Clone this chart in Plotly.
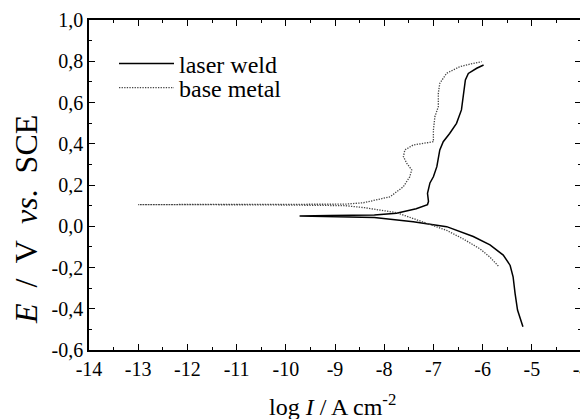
import plotly.graph_objects as go

# Laser weld (solid)
lw_logI = [-5.18, -5.29, -5.34, -5.38, -5.44, -5.58, -5.85, -6.19, -6.73, -7.41, -8.2, -9.1, -9.72,
           -9.1, -8.2, -7.75, -7.35, -7.12, -7.10, -7.12, -7.07, -7.0, -6.93, -6.87, -6.80, -6.67,
           -6.53, -6.43, -6.39, -6.37, -6.35, -6.29, -6.12, -5.98]
lw_E = [-0.487, -0.406, -0.325, -0.245, -0.19, -0.14, -0.09, -0.05, -0.002, 0.022, 0.042, 0.048, 0.05,
        0.052, 0.055, 0.063, 0.085, 0.105, 0.12, 0.16, 0.21, 0.24, 0.289, 0.37, 0.41, 0.45,
        0.499, 0.564, 0.628, 0.67, 0.709, 0.741, 0.766, 0.782]

# Base metal (dotted)
bm_logI = [-5.68, -5.85, -6.05, -6.39, -6.73, -7.07, -7.41, -7.75, -8.4, -8.8, -10.5, -13.0,
           -10.5, -8.8, -8.42, -7.88, -7.61, -7.48, -7.44, -7.54, -7.61, -7.58, -7.41, -7.0,
           -7.0, -6.97, -6.90, -6.90, -6.87, -6.73, -6.46, -6.19, -6.02]
bm_E = [-0.193, -0.15, -0.11, -0.062, -0.02, 0.008, 0.039, 0.066, 0.09, 0.1, 0.104, 0.105,
        0.106, 0.107, 0.114, 0.143, 0.192, 0.24, 0.273, 0.305, 0.337, 0.37, 0.394, 0.41,
        0.467, 0.531, 0.58, 0.645, 0.693, 0.742, 0.774, 0.79, 0.798]

x_ticks = [-14, -13, -12, -11, -10, -9, -8, -7, -6, -5, -4]
x_ticktext = ["-14", "-13", "-12", "-11", "-10", "-9", "-8", "-7", "-6", "-5", "-4"]
y_ticks = [1.0, 0.8, 0.6, 0.4, 0.2, 0.0, -0.2, -0.4, -0.6]
y_ticktext = ["1,0", "0,8", "0,6", "0,4", "0,2", "0,0", "-0,2", "-0,4", "-0,6"]

FONT = "Liberation Serif"

# page has an 8px body margin; plot area in window pixels: x 89..581, y 20..350
OFF = 8
PL, PR, PT, PB = 89 - OFF, 581 - OFF, 20 - OFF, 350 - OFF
W, H = 588 - OFF, 419 - OFF
PW, PH = PR - PL, PB - PT


def px_x(x):  # window px -> paper
    return (x - OFF - PL) / PW


def px_y(y):
    return (PB - (y - OFF)) / PH


fig = go.Figure()
fig.add_trace(go.Scatter(x=lw_logI, y=lw_E, mode="lines", name="laser weld", legend="legend",
                         line=dict(color="black", width=1.5)))
fig.add_trace(go.Scatter(x=bm_logI, y=bm_E, mode="lines", name="base metal", legend="legend2",
                         line=dict(color="#444444", width=1.3, dash="1.3px,1.3px")))

axis_common = dict(showline=True, linecolor="black", linewidth=1.5, mirror="allticks",
                   ticks="inside", ticklen=6, tickwidth=1.2, tickcolor="black",
                   showgrid=False, zeroline=False, ticklabeloverflow="allow",
                   tickfont=dict(family=FONT, size=20, color="black"))

fig.update_xaxes(range=[-14, -4], tickvals=x_ticks, ticktext=x_ticktext,
                 minor=dict(ticks="inside", ticklen=3.5, tickwidth=1.2, tickcolor="black", dtick=0.5, tick0=-14),
                 **axis_common)
fig.update_yaxes(range=[-0.6, 1.0], tickvals=y_ticks, ticktext=y_ticktext,
                 minor=dict(ticks="inside", ticklen=3.5, tickwidth=1.2, tickcolor="black", dtick=0.1, tick0=-0.6),
                 **axis_common)

fig.add_annotation(text="<i>E</i>&nbsp; /&nbsp; V&nbsp; <i>vs</i>.&nbsp; SCE", textangle=-90,
                   xref="paper", yref="paper",
                   x=px_x(26), y=px_y(220), xanchor="center", yanchor="middle",
                   showarrow=False, font=dict(family=FONT, size=32, color="black"))
fig.add_annotation(text="log <i>I</i> / A cm<sup>-2</sup>", xref="paper", yref="paper",
                   x=px_x(332), y=px_y(405), xanchor="center", yanchor="middle",
                   showarrow=False, font=dict(family=FONT, size=24, color="black"))

leg_common = dict(xanchor="left", yanchor="middle", bgcolor="rgba(0,0,0,0)", borderwidth=0,
                  itemwidth=55, font=dict(family=FONT, size=24, color="black"))

fig.update_layout(
    width=W, height=H,
    margin=dict(l=PL, r=W - PR, t=PT, b=H - PB, autoexpand=False),
    paper_bgcolor="white", plot_bgcolor="white",
    showlegend=True,
    legend=dict(x=px_x(114), y=px_y(64), **leg_common),
    legend2=dict(x=px_x(114), y=px_y(88), **leg_common),
)

fig.write_html("out.html")
